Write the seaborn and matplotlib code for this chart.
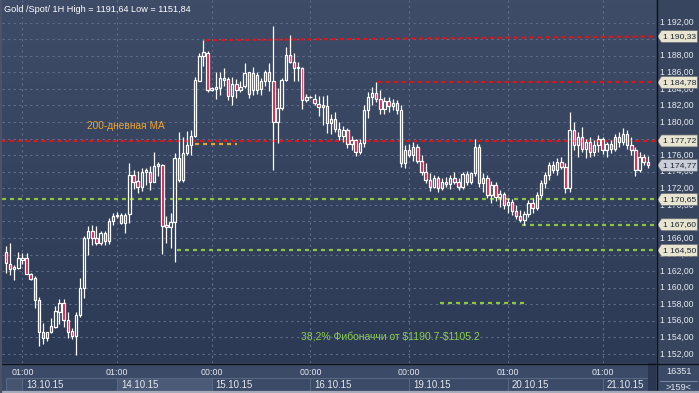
import numpy as np
import pandas as pd
import matplotlib
matplotlib.use("Agg")
import matplotlib.pyplot as plt
import seaborn as sns
from matplotlib.patches import Polygon, Rectangle
from matplotlib.colors import LinearSegmentedColormap

# ---------------- data ----------------
opens = [
    1164.3, 1162.9, 1162.3, 1162.4, 1163.3, 1163.6, 1161.7, 1161.2, 1158.5, 1154.6,
    1153.9, 1154.6, 1155.3, 1157.1, 1158.2, 1156.1, 1154.8, 1154.2, 1156.7, 1159.9,
    1166.0, 1166.8, 1166.0, 1165.4, 1166.6, 1165.6, 1168.0, 1168.8, 1168.8, 1167.8,
    1168.9, 1173.6, 1172.9, 1172.2, 1174.0, 1174.0, 1172.8, 1174.7, 1174.8, 1167.6,
    1167.3, 1167.9, 1175.6, 1173.0, 1176.3, 1177.2, 1178.3, 1185.0, 1188.0, 1188.3,
    1183.9, 1184.0, 1184.1, 1185.1, 1185.2, 1183.1, 1184.6, 1183.9, 1184.3, 1186.0,
    1183.9, 1185.7, 1184.0, 1184.9, 1186.0, 1185.0, 1180.0, 1181.7, 1185.1, 1188.1,
    1187.3, 1186.5, 1186.5, 1182.7, 1183.0, 1182.8, 1182.2, 1181.8, 1181.9, 1179.9,
    1180.4, 1179.2, 1178.3, 1179.0, 1177.4, 1177.8, 1176.4, 1177.5, 1181.5, 1183.0,
    1183.5, 1182.8, 1181.6, 1182.6, 1181.9, 1182.3, 1181.5, 1175.0, 1176.6, 1176.0,
    1177.0, 1175.3, 1174.0, 1173.0, 1172.2, 1173.2, 1172.0, 1172.8, 1172.5, 1173.3,
    1172.8, 1172.2, 1173.7, 1172.8, 1173.8, 1177.0, 1172.6, 1173.2, 1171.2, 1172.4,
    1170.9, 1171.3, 1170.0, 1170.4, 1169.3, 1168.7, 1168.2, 1168.9, 1170.2, 1169.6,
    1171.2, 1172.6, 1173.6, 1174.8, 1174.2, 1175.2, 1174.6, 1172.0, 1179.0, 1177.2,
    1178.2, 1176.8, 1177.6, 1176.4, 1177.2, 1177.9, 1176.6, 1177.3, 1176.8, 1178.2,
    1177.6, 1178.6, 1177.2, 1176.6, 1174.2, 1175.8, 1175.2,
]
highs = [
    1165.0, 1165.4, 1162.7, 1164.3, 1164.2, 1164.2, 1161.8, 1161.4, 1158.9, 1155.7,
    1154.7, 1156.3, 1157.8, 1158.6, 1158.6, 1157.1, 1155.1, 1157.0, 1161.2, 1166.2,
    1167.4, 1167.6, 1167.4, 1166.8, 1166.8, 1168.4, 1169.0, 1169.1, 1169.0, 1169.0,
    1175.1, 1174.2, 1174.1, 1174.5, 1174.5, 1174.7, 1176.4, 1175.2, 1174.9, 1168.6,
    1169.0, 1176.3, 1178.8, 1178.2, 1178.9, 1179.0, 1185.5, 1188.3, 1189.9, 1188.6,
    1184.2, 1186.0, 1186.0, 1186.5, 1185.5, 1185.5, 1185.2, 1185.0, 1187.1, 1186.1,
    1186.6, 1186.1, 1185.3, 1186.3, 1187.1, 1191.64, 1184.1, 1185.3, 1189.1, 1190.5,
    1188.3, 1187.3, 1186.6, 1183.4, 1183.1, 1183.4, 1183.1, 1183.1, 1183.3, 1181.0,
    1181.2, 1180.0, 1179.5, 1179.3, 1178.3, 1178.0, 1177.9, 1182.0, 1183.6, 1184.2,
    1184.8, 1183.9, 1183.0, 1183.0, 1182.8, 1182.7, 1182.0, 1177.2, 1177.4, 1177.6,
    1177.3, 1176.0, 1175.0, 1173.8, 1173.6, 1173.5, 1173.2, 1173.4, 1173.6, 1174.0,
    1173.2, 1174.0, 1174.1, 1174.0, 1178.0, 1177.3, 1173.8, 1173.6, 1172.9, 1172.8,
    1171.8, 1171.6, 1170.8, 1170.7, 1170.0, 1169.4, 1169.2, 1170.6, 1170.8, 1171.6,
    1173.0, 1174.0, 1175.2, 1175.3, 1175.6, 1175.8, 1175.0, 1181.2, 1180.0, 1178.8,
    1179.4, 1178.0, 1178.2, 1177.8, 1178.4, 1178.2, 1177.6, 1177.8, 1178.6, 1178.8,
    1179.3, 1179.0, 1178.2, 1177.0, 1176.4, 1176.2, 1175.9,
]
lows = [
    1161.8, 1161.5, 1160.9, 1162.3, 1162.8, 1161.6, 1160.9, 1157.6, 1152.9, 1153.2,
    1153.6, 1154.5, 1155.1, 1155.6, 1155.3, 1153.9, 1153.8, 1151.84, 1156.5, 1158.7,
    1164.0, 1165.2, 1165.2, 1165.1, 1165.2, 1165.3, 1167.6, 1168.4, 1167.7, 1166.6,
    1167.8, 1171.9, 1171.4, 1171.7, 1172.4, 1171.8, 1172.7, 1173.5, 1164.1, 1165.4,
    1164.8, 1163.1, 1172.8, 1172.8, 1176.0, 1176.0, 1178.2, 1184.9, 1186.8, 1183.6,
    1183.8, 1182.8, 1183.3, 1184.3, 1182.7, 1182.0, 1182.9, 1183.6, 1184.1, 1182.9,
    1183.3, 1183.4, 1183.3, 1184.4, 1183.8, 1174.2, 1177.5, 1181.5, 1184.9, 1187.1,
    1185.0, 1185.0, 1181.6, 1182.4, 1182.9, 1182.0, 1180.7, 1179.7, 1178.7, 1178.5,
    1178.8, 1177.8, 1177.6, 1176.9, 1176.6, 1175.9, 1176.2, 1177.0, 1180.5, 1182.0,
    1182.4, 1181.0, 1181.0, 1181.2, 1181.4, 1181.0, 1174.6, 1174.5, 1175.8, 1175.3,
    1175.0, 1173.6, 1172.6, 1171.7, 1172.0, 1171.6, 1171.8, 1172.2, 1171.9, 1172.5,
    1171.8, 1171.9, 1172.4, 1172.5, 1173.5, 1172.2, 1171.5, 1170.8, 1170.2, 1170.5,
    1169.8, 1169.5, 1169.0, 1168.8, 1168.3, 1167.9, 1167.6, 1168.5, 1169.0, 1169.4,
    1170.8, 1172.0, 1173.0, 1173.8, 1173.6, 1174.3, 1171.4, 1171.6, 1176.6, 1175.8,
    1176.4, 1175.6, 1175.8, 1175.9, 1176.4, 1176.2, 1175.8, 1176.3, 1176.5, 1177.0,
    1177.2, 1176.8, 1176.0, 1173.5, 1174.0, 1174.8, 1174.5,
]
closes = [
    1163.0, 1162.2, 1162.5, 1163.6, 1163.6, 1161.7, 1161.1, 1158.5, 1154.6, 1153.9,
    1154.6, 1155.4, 1157.2, 1158.2, 1156.1, 1154.7, 1154.2, 1156.7, 1159.9, 1166.0,
    1166.8, 1166.0, 1165.4, 1166.6, 1165.6, 1168.1, 1168.7, 1168.6, 1167.8, 1168.8,
    1173.6, 1172.8, 1172.2, 1174.0, 1174.2, 1172.8, 1174.7, 1174.9, 1167.4, 1167.3,
    1167.9, 1175.6, 1173.0, 1176.3, 1177.2, 1178.3, 1185.1, 1188.0, 1188.4, 1183.9,
    1184.1, 1184.2, 1185.3, 1185.3, 1183.1, 1184.6, 1183.9, 1184.2, 1185.9, 1183.4,
    1185.9, 1183.9, 1185.0, 1186.0, 1184.9, 1180.0, 1181.7, 1185.1, 1188.1, 1187.3,
    1186.5, 1186.6, 1182.7, 1183.0, 1183.0, 1182.3, 1181.8, 1182.0, 1179.9, 1180.4,
    1179.2, 1178.3, 1179.0, 1177.4, 1177.8, 1176.4, 1177.5, 1181.5, 1183.0, 1183.5,
    1182.8, 1181.6, 1182.6, 1181.9, 1182.3, 1181.5, 1175.0, 1176.6, 1176.0, 1177.0,
    1175.3, 1174.0, 1173.0, 1172.2, 1173.2, 1172.0, 1172.8, 1172.5, 1173.3, 1172.8,
    1172.2, 1173.7, 1172.8, 1173.8, 1177.0, 1172.6, 1173.2, 1171.2, 1172.4, 1170.9,
    1171.3, 1170.0, 1170.4, 1169.3, 1168.7, 1168.2, 1168.9, 1170.2, 1169.6, 1171.2,
    1172.6, 1173.6, 1174.8, 1174.2, 1175.2, 1174.6, 1172.0, 1179.0, 1177.2, 1178.2,
    1176.8, 1177.6, 1176.4, 1177.2, 1177.9, 1176.6, 1177.3, 1176.8, 1178.2, 1177.6,
    1178.6, 1177.2, 1176.6, 1174.2, 1175.8, 1175.2, 1174.77,
]

price_ticks = list(range(1152, 1194, 2))
time_labels = ["01:00", "01:00", "00:00", "00:00", "00:00", "01:00", "01:00"]
date_labels = ["13.10.15", "14.10.15", "15.10.15", "16.10.15", "19.10.15", "20.10.15", "21.10.15"]
day_start_bars = [4, 27, 50, 74, 98, 122, 145]

red_levels = [1190.33, 1184.78, 1177.72]
green_levels = [1170.65, 1167.60, 1164.50]
last_price = 1174.77
ma200_level = 1177.3
fib_level = 1158.1

title_text = "Gold /Spot/ 1H High = 1191,64 Low = 1151,84"
ma_text = "200-дневная МА"
fib_text = "38,2% Фибоначчи от $1190.7-$1105.2"
counter_top = "16351"
counter_bot = ">159<"

df = pd.DataFrame({"open": opens, "high": highs, "low": lows, "close": closes})
df["bar"] = np.arange(len(df))

# ---------------- style ----------------
sns.set_style("dark")
plt.rcParams['font.family'] = ['Liberation Sans', 'DejaVu Sans']

W, H = 699, 393
fig = plt.figure(figsize=(W / 100, H / 100), dpi=100)
fig.patch.set_facecolor("#3a4864")


def rect(x0, y0, x1, y1):
    return [x0 / W, 1 - y1 / H, (x1 - x0) / W, (y1 - y0) / H]


XL = (-0.97, 158.0)
YL = (1150.9, 1194.74)
TXT = "#e6eaf0"

ax = fig.add_axes(rect(2, 0, 656, 363))
ax.set_xlim(*XL)
ax.set_ylim(*YL)
cmap = LinearSegmentedColormap.from_list("bg", ["#2c3a56", "#3f4c68"])
ax.imshow(np.linspace(0, 1, 100).reshape(-1, 1), extent=[XL[0], XL[1], YL[0], YL[1]],
          aspect="auto", cmap=cmap, origin="lower", zorder=0)
for s in ax.spines.values():
    s.set_visible(False)
ax.set_xticks([])
ax.set_yticks([])

grid_kw = dict(color="#5d6d8b", lw=0.8, ls=(0, (2, 3)), zorder=1)
ax.hlines(price_ticks, XL[0], XL[1], **grid_kw)
ax.vlines(day_start_bars, YL[0], YL[1], **grid_kw)

# levels
red_kw = dict(color="#e41212", lw=1.5, ls=(0, (2.0, 1.8)), zorder=2)
green_kw = dict(color="#8cc63e", lw=1.6, ls=(0, (1.8, 1.8)), zorder=2)
ax.plot([48.4, XL[1]], [red_levels[0] - 0.45, red_levels[0]], **red_kw)
ax.plot([90.4, XL[1]], [red_levels[1], red_levels[1]], **red_kw)
ax.plot([XL[0], XL[1]], [red_levels[2], red_levels[2]], **red_kw)
ax.plot([XL[0], XL[1]], [green_levels[0], green_levels[0]], **green_kw)
ax.plot([125.4, XL[1]], [green_levels[1], green_levels[1]], **green_kw)
ax.plot([41.6, XL[1]], [green_levels[2], green_levels[2]], **green_kw)
ax.plot([105.5, 126.6], [fib_level, fib_level], **green_kw)
ax.plot([45.9, 56.1], [ma200_level, ma200_level], color="#e8a317", lw=1.6,
        ls=(0, (1.8, 1.8)), zorder=2)

# candles
o = df["open"].to_numpy(); c = df["close"].to_numpy()
hi = df["high"].to_numpy(); lo = df["low"].to_numpy(); x = df["bar"].to_numpy()
top = np.maximum(o, c); bot = np.minimum(o, c)
up = c >= o
ax.vlines(x, top, hi, color="white", lw=0.9, zorder=3)
ax.vlines(x, lo, bot, color="white", lw=0.9, zorder=3)
height = np.maximum(top - bot, 0.08)
fills = [(0, 0, 0, 0) if u else "#e3123c" for u in up]
ax.bar(x, height, bottom=bot, width=0.58, color=fills, edgecolor="white",
       linewidth=0.9, zorder=4)

# texts in plot
ax.text(19.7, 1179.5, ma_text, color="#f0a52a", fontsize=7.3, va="center", ha="left",
        zorder=5, parse_math=False)
ax.text(71.6, 1154.05, fib_text, color="#8ccf4d", fontsize=7.5, va="center", ha="left",
        zorder=5, parse_math=False)
fig.text(4 / W, 1 - 9 / H, title_text, color="white", fontsize=6.6, va="center", ha="left")

# ---------------- right price panel ----------------
axr = fig.add_axes(rect(656, 0, 699, 363))
axr.set_xlim(0, 43)
axr.set_ylim(*YL)
axr.set_facecolor("#37455f")
axr.set_xticks([]); axr.set_yticks([])
for s in axr.spines.values():
    s.set_visible(False)

callouts = [(red_levels[0], "#e7e5cf"), (red_levels[1], "#e7e5cf"), (red_levels[2], "#e7e5cf"),
            (last_price, "#c9ced8"), (green_levels[0], "#e7e5cf"),
            (green_levels[1], "#e7e5cf"), (green_levels[2], "#e7e5cf")]
callout_vals = [v for v, _ in callouts]
for v in price_ticks:
    # labels completely hidden behind a callout box are not drawn
    if min(abs(v - cv) for cv in callout_vals) < 0.5:
        continue
    axr.text(4, v, f"1 {v % 1000:03d},00", color=TXT, fontsize=6.2, va="center", ha="left")

hh = 0.72
for v, col in callouts:
    poly = Polygon([(1.5, v), (5.5, v + hh), (41.5, v + hh), (41.5, v - hh), (5.5, v - hh)],
                   closed=True, facecolor=col, edgecolor="#6b6f78", lw=0.5, zorder=5)
    axr.add_patch(poly)
    s = f"{v:.2f}".replace(".", ",")
    axr.text(7.2, v, "1 " + s[1:], color="#1c2232", fontsize=6.1, va="center", ha="left", zorder=6)

# ---------------- bottom time panel ----------------
axb = fig.add_axes(rect(2, 363, 656, 393))
axb.set_xlim(*XL)
axb.set_ylim(30, 0)
axb.set_facecolor("#3b4a66")
axb.set_xticks([]); axb.set_yticks([])
for s in axb.spines.values():
    s.set_visible(False)
edges = day_start_bars + [XL[1]]
axb.add_patch(Rectangle((0.0, 14.5), 3.9, 15.5, facecolor="#46546f", edgecolor="#5a6984", lw=0.7))
for i in range(len(day_start_bars)):
    fc = "#4b5a76" if i == 1 else "none"
    axb.add_patch(Rectangle((edges[i], 14.5), edges[i + 1] - edges[i], 15.5,
                            facecolor=fc, edgecolor="#5a6984", lw=0.7))
    axb.text(day_start_bars[i], 9.5, time_labels[i], color=TXT, fontsize=6.4, ha="center", va="center")
    axb.text(day_start_bars[i] + 1.0, 21.5, date_labels[i], color=TXT, fontsize=6.9, ha="left", va="center")
axb.add_patch(Rectangle((156.0, 0), 2.0, 30, facecolor="#2b3650", edgecolor="none"))

axbr = fig.add_axes(rect(656, 363, 699, 393))
axbr.set_xlim(0, 43); axbr.set_ylim(30, 0)
axbr.set_facecolor("#3b4a66")
axbr.set_xticks([]); axbr.set_yticks([])
for s in axbr.spines.values():
    s.set_visible(False)
axbr.text(23, 9, counter_top, color=TXT, fontsize=6.6, ha="center", va="center")
axbr.plot([4, 41], [18, 18], color="#8893a8", lw=0.6)
axbr.text(23, 24.5, counter_bot, color=TXT, fontsize=6.6, ha="center", va="center")

# separators / borders
fig.add_artist(plt.Line2D([656.5 / W, 656.5 / W], [0, 1], color="#0e1218", lw=1.0))
fig.add_artist(plt.Line2D([0, 1], [1 - 363.5 / H, 1 - 363.5 / H], color="#0e1218", lw=1.0))
fig.add_artist(plt.Line2D([0, 1], [0.8 / H, 0.8 / H], color="#a4acbc", lw=1.6))
fig.add_artist(plt.Line2D([0.8 / W, 0.8 / W], [0, 1], color="#4b5368", lw=1.6))

fig.savefig("out.png", dpi=100, facecolor=fig.get_facecolor())
